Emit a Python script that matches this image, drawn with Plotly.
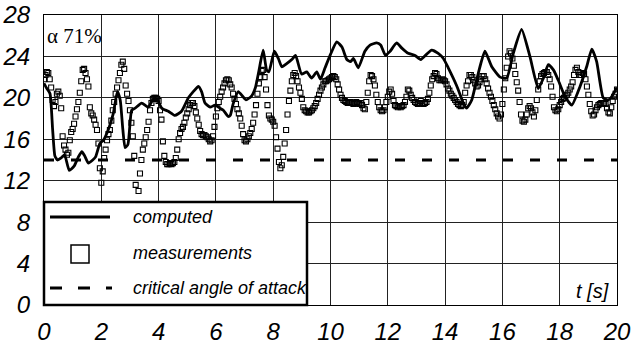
import plotly.graph_objects as go

# ---- data -------------------------------------------------------------
# computed angle of attack [deg] vs time [s]
comp_t = [0.00, 0.10, 0.21, 0.30, 0.38, 0.47, 0.60, 0.72, 0.88, 1.05, 1.20, 1.32,
          1.42, 1.55, 1.70, 1.80, 1.95, 2.07, 2.24, 2.42, 2.56, 2.66, 2.75, 2.83,
          2.93, 3.06, 3.18, 3.41, 3.64, 3.82, 3.95, 4.11, 4.34, 4.57, 4.80, 5.04,
          5.21, 5.39, 5.50, 5.62, 5.80, 5.97, 6.14, 6.26, 6.43, 6.50, 6.60, 6.78,
          7.05, 7.25, 7.38, 7.50, 7.65, 7.77, 7.85, 8.04, 8.18, 8.30, 8.47, 8.65,
          8.78, 8.99, 9.17, 9.34, 9.52, 9.65, 9.81, 10.00, 10.22, 10.40, 10.57, 10.70,
          10.80, 10.97, 11.20, 11.38, 11.61, 11.75, 11.92, 12.08, 12.31, 12.49, 12.71, 12.95,
          13.15, 13.35, 13.53, 13.76, 13.94, 14.11, 14.40, 14.64, 14.75, 14.93, 15.16, 15.39,
          15.63, 15.92, 16.15, 16.38, 16.67, 16.96, 17.25, 17.43, 17.60, 17.78, 17.95, 18.19,
          18.42, 18.71, 18.94, 19.12, 19.29, 19.52, 19.70, 19.81, 20.00]
comp_v = [21.4, 20.9, 20.4, 17.0, 14.4, 14.0, 14.2, 14.5, 13.0, 13.4, 14.3, 14.8,
          14.4, 13.7, 14.0, 14.3, 15.6, 15.9, 16.9, 18.5, 20.6, 19.8, 17.0, 15.2,
          15.5, 18.8, 19.0, 19.5, 19.1, 19.9, 19.8, 19.0, 18.7, 18.3, 18.7, 20.0,
          20.6, 21.1, 20.6, 19.5, 19.1, 19.3, 19.0, 18.8, 18.2, 18.3, 19.4, 20.6,
          19.8, 20.2, 21.0, 22.6, 24.6, 22.7, 22.5, 24.5, 23.8, 23.0, 23.3, 23.7,
          24.1, 22.3, 22.5, 21.9, 22.5, 21.8, 22.9, 24.2, 25.4, 24.9, 23.7, 23.5,
          23.8, 22.9, 24.5, 25.1, 25.3, 25.1, 24.1, 24.5, 25.3, 24.8, 24.3, 24.1,
          23.7, 24.2, 24.6, 24.3, 23.8, 22.9, 21.2, 19.5, 19.0, 19.8, 22.4, 24.5,
          23.0, 22.0, 21.9, 24.3, 26.6, 24.0, 20.9, 21.9, 23.2, 22.7, 21.7, 20.1,
          19.3, 21.1, 23.0, 24.7, 23.5, 20.0, 19.8, 20.1, 21.0]

# measured angle of attack, sampled every dt seconds (one row per second)
dt = 0.05
meas_v = [
    21.8, 22.2, 22.5, 22.4, 21.8, 21.0, 19.8, 19.2, 19.6, 20.4, 20.6, 20.2, 19.0, 16.3, 15.4, 15.0, 14.5, 14.7, 15.9, 16.7,
    17.0, 17.5, 18.2, 18.9, 19.6, 20.5, 21.6, 22.7, 22.8, 22.4, 21.8, 21.1, 19.1, 18.5, 18.3, 17.9, 17.4, 16.9, 15.6, 13.2,
    11.8, 12.9, 14.2, 15.0, 15.9, 16.5, 16.9, 17.8, 18.8, 19.6, 20.4, 21.0, 21.7, 22.4, 23.2, 23.5, 22.8, 21.2, 20.4, 19.7,
    18.8, 17.6, 16.3, 14.4, 11.6, 9.6, 11.0, 12.7, 14.0, 15.0, 15.6, 16.2, 16.9, 17.7, 18.8, 19.5, 19.9, 20.0, 20.0, 19.9,
    19.7, 18.8, 17.9, 15.8, 14.4, 13.8, 13.6, 13.6, 13.7, 13.6, 13.7, 13.8, 14.2, 15.0, 16.0, 16.6, 17.0, 17.2, 17.6, 18.1,
    18.5, 18.9, 19.3, 19.5, 19.5, 19.2, 18.6, 18.0, 17.4, 16.8, 16.5, 16.4, 16.4, 16.3, 16.2, 16.0, 15.8, 15.9, 16.3, 17.2,
    18.2, 19.0, 19.6, 20.1, 20.6, 21.0, 21.4, 21.7, 21.8, 21.7, 21.3, 21.0, 20.4, 19.9, 19.4, 18.9, 18.5, 18.0, 17.3, 16.5,
    15.9, 15.8, 16.0, 16.3, 16.6, 17.0, 17.6, 18.4, 19.3, 20.4, 21.4, 22.0, 22.6, 22.7, 22.0, 20.8, 19.3, 18.3, 18.0, 17.9,
    17.7, 17.3, 16.2, 15.1, 13.8, 13.2, 13.5, 14.3, 15.6, 16.9, 18.4, 19.7, 20.7, 21.6, 22.2, 22.4, 22.1, 21.6, 21.0, 20.5,
    19.9, 19.1, 18.8, 18.7, 18.6, 18.6, 18.7, 18.8, 19.0, 19.2, 19.5, 19.9, 20.3, 20.7, 21.0, 21.3, 21.6, 21.6, 21.7, 21.8,
    21.9, 22.0, 22.1, 22.0, 21.8, 21.3, 20.8, 20.3, 20.0, 19.8, 19.7, 19.6, 19.5, 19.5, 19.6, 19.5, 19.4, 19.5, 19.6, 19.5,
    19.4, 19.5, 19.3, 19.0, 18.9, 19.6, 20.5, 21.6, 22.2, 22.1, 21.8, 21.2, 20.3, 19.6, 19.1, 18.8, 18.7, 18.8, 19.1, 19.6,
    20.1, 20.6, 20.8, 20.4, 19.7, 19.3, 19.2, 19.1, 19.2, 19.1, 19.2, 19.3, 19.6, 20.1, 20.8, 20.7, 20.3, 20.0, 19.8, 19.6,
    19.5, 19.4, 19.5, 19.7, 19.5, 19.4, 19.5, 19.6, 19.9, 20.5, 21.2, 21.8, 22.1, 22.4, 22.3, 21.9, 21.7, 21.7, 21.8, 21.7,
    21.6, 21.3, 20.9, 20.7, 20.4, 20.2, 20.0, 19.8, 19.6, 19.4, 19.3, 19.2, 19.3, 19.6, 20.5, 21.2, 21.6, 22.2, 22.2, 22.0,
    21.7, 21.4, 21.1, 21.2, 21.5, 21.8, 22.1, 22.1, 21.8, 21.4, 20.9, 20.5, 20.1, 19.7, 19.3, 18.9, 18.5, 18.2, 18.0, 18.4,
    19.4, 20.8, 21.9, 22.9, 24.0, 24.5, 24.3, 23.8, 23.1, 22.3, 21.5, 20.7, 19.6, 18.4, 17.8, 17.7, 17.9, 18.4, 19.0, 19.2,
    19.0, 18.6, 18.2, 18.8, 19.8, 20.8, 21.6, 22.1, 22.3, 22.4, 22.5, 22.5, 22.2, 21.8, 21.1, 20.1, 19.1, 18.8, 18.7, 18.9,
    19.3, 19.6, 19.9, 20.0, 20.2, 20.3, 20.5, 20.8, 21.1, 21.5, 22.2, 22.7, 22.9, 22.5, 22.2, 22.2, 22.4, 22.3, 21.8, 21.1,
    20.3, 19.4, 18.7, 18.3, 18.4, 18.8, 19.1, 19.3, 19.4, 19.5, 19.5, 19.5, 19.4, 19.0, 18.6, 18.5, 19.1, 19.7, 20.1, 20.4,
    20.8,
]
meas_t = [round(i * dt, 2) for i in range(len(meas_v))]

# critical angle of attack [deg]
crit_angle = 14.0
t_range = [0, 20]

x_ticks = [0, 2, 4, 6, 8, 10, 12, 14, 16, 18, 20]
y_ticks = [0, 4, 8, 12, 16, 20, 24, 28]

legend_labels = ["computed", "measurements", "critical angle of attack"]

# ---- figure -----------------------------------------------------------
fig = go.Figure()

fig.add_trace(go.Scatter(
    x=t_range, y=[crit_angle, crit_angle], mode="lines",
    line=dict(color="black", width=3.2, dash="10px,17px"),
    showlegend=False, hoverinfo="skip"))

fig.add_trace(go.Scatter(
    x=meas_t, y=meas_v, mode="markers",
    marker=dict(symbol="square-open", size=5, color="black",
                line=dict(width=1.1, color="black")),
    showlegend=False))

fig.add_trace(go.Scatter(
    x=comp_t, y=comp_v, mode="lines",
    line=dict(color="black", width=2.8, shape="spline", smoothing=0.5),
    showlegend=False))

tick_font = dict(family="Liberation Sans, Arial, sans-serif", size=24,
                 color="black", style="italic")

fig.update_xaxes(range=[0, 20], tickvals=x_ticks, ticktext=[str(v) for v in x_ticks],
                 showgrid=True, gridcolor="#222", gridwidth=1,
                 showline=True, linecolor="black", linewidth=1.2, mirror=True,
                 ticks="", tickfont=tick_font, ticklabelstandoff=5, zeroline=False,
                 automargin=False)
fig.update_yaxes(range=[0, 28], tickvals=y_ticks, ticktext=[str(v) for v in y_ticks],
                 showgrid=True, gridcolor="#222", gridwidth=1,
                 showline=True, linecolor="black", linewidth=1.2, mirror=True,
                 ticks="", tickfont=tick_font, ticklabelstandoff=8, zeroline=False,
                 automargin=False)

# ---- legend box drawn in paper coordinates ------------------------------
W, H = 631, 345
L, R, T, B = 44, 14, 15, 40
pw, ph = W - L - R, H - T - B


def px_x(px):
    return (px - L) / pw


def px_y(py):
    return (H - B - py) / ph


shapes = [
    dict(type="rect", xref="paper", yref="paper",
         x0=px_x(44), x1=px_x(307), y0=px_y(305), y1=px_y(202),
         fillcolor="white", line=dict(color="black", width=2.5), layer="above"),
    dict(type="line", xref="paper", yref="paper",
         x0=px_x(50), x1=px_x(110), y0=px_y(217), y1=px_y(217),
         line=dict(color="black", width=3), layer="above"),
    dict(type="rect", xref="paper", yref="paper",
         x0=px_x(71), x1=px_x(89), y0=px_y(263), y1=px_y(245),
         fillcolor="white", line=dict(color="black", width=1.5), layer="above"),
    dict(type="line", xref="paper", yref="paper",
         x0=px_x(50), x1=px_x(112), y0=px_y(288), y1=px_y(288),
         line=dict(color="black", width=3.2, dash="12px,16px"), layer="above"),
]

label_font = dict(family="Liberation Sans, Arial, sans-serif", size=18,
                  color="black", style="italic")
annotations = []
for label, py in zip(legend_labels, [217, 253, 288]):
    annotations.append(dict(
        text=label, xref="paper", yref="paper", x=px_x(131), y=px_y(py),
        xanchor="left", yanchor="middle", showarrow=False, font=label_font))

annotations.append(dict(
    text="\u03b1 71%", xref="paper", yref="paper", x=px_x(45), y=px_y(36),
    xanchor="left", yanchor="middle", showarrow=False,
    font=dict(family="Liberation Serif, Times New Roman, serif", size=21, color="black")))
annotations.append(dict(
    text="t [s]", xref="paper", yref="paper", x=px_x(611), y=px_y(291),
    xanchor="right", yanchor="middle", showarrow=False,
    font=dict(family="Liberation Sans, Arial, sans-serif", size=20, color="black",
              style="italic")))

fig.update_layout(
    width=W, height=H,
    margin=dict(l=L, r=R, t=T, b=B, pad=0),
    paper_bgcolor="white", plot_bgcolor="white",
    shapes=shapes, annotations=annotations,
    showlegend=False,
)

fig.write_html("out.html")
